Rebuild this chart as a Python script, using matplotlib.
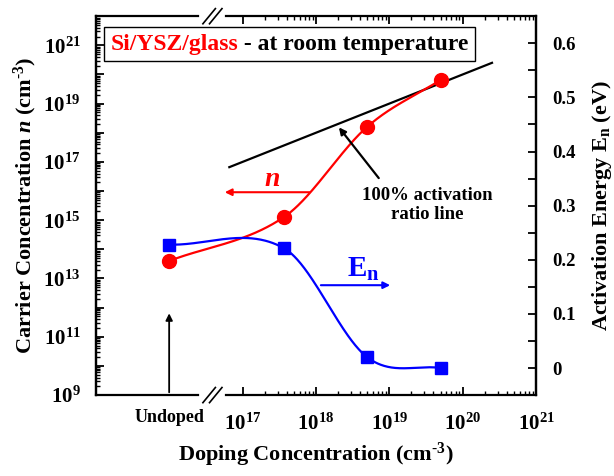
import numpy as np
import matplotlib
matplotlib.use("Agg")
import matplotlib.pyplot as plt
from matplotlib.ticker import FixedLocator, NullFormatter
from matplotlib.offsetbox import TextArea, HPacker, AnchoredOffsetbox

plt.rcParams['font.family'] = 'Liberation Serif'
plt.rcParams['font.weight'] = 'bold'
plt.rcParams['axes.labelweight'] = 'bold'
plt.rcParams['mathtext.fontset'] = 'custom'
plt.rcParams['mathtext.rm'] = 'Liberation Serif:bold'
plt.rcParams['mathtext.bf'] = 'Liberation Serif:bold'
plt.rcParams['mathtext.it'] = 'Liberation Serif:bold:italic'
plt.rcParams['mathtext.bfit'] = 'Liberation Serif:bold:italic'

# data (doping in cm^-3, first sample is undoped)
doping = [np.nan, 3.7e17, 5e18, 5e19]
carrier_n = [4e13, 1.3e15, 1.6e18, 6.5e19]      # cm^-3
energy_en = [0.228, 0.221, 0.020, 0.000]        # eV
ratio_line_doping = [10**16.82, 10**20.4]       # 100% activation: n = doping
x_ticks = [17, 18, 19, 20, 21]
y_ticks_labeled = [9, 11, 13, 15, 17, 19, 21]
e_ticks = [0, 0.1, 0.2, 0.3, 0.4, 0.5, 0.6]

UNDOPED_POS = 16   # where "Undoped" sits on the log10 axis

xpos = np.array([UNDOPED_POS if np.isnan(d) else np.log10(d) for d in doping])


def smooth_curve(x, y, xs):
    # cubic hermite through the points, finite-difference tangents
    x = np.asarray(x, float)
    y = np.asarray(y, float)
    n = len(x)
    m = np.empty(n)
    m[0] = (y[1] - y[0]) / (x[1] - x[0])
    m[-1] = (y[-1] - y[-2]) / (x[-1] - x[-2])
    for i in range(1, n - 1):
        m[i] = (y[i + 1] - y[i - 1]) / (x[i + 1] - x[i - 1])
    out = np.empty_like(xs)
    for k, xv in enumerate(xs):
        i = min(max(np.searchsorted(x, xv) - 1, 0), n - 2)
        h = x[i + 1] - x[i]
        t = (xv - x[i]) / h
        h00 = 2 * t**3 - 3 * t**2 + 1
        h10 = t**3 - 2 * t**2 + t
        h01 = -2 * t**3 + 3 * t**2
        h11 = t**3 - t**2
        out[k] = h00 * y[i] + h10 * h * m[i] + h01 * y[i + 1] + h11 * h * m[i + 1]
    return out


fig = plt.figure(figsize=(6.14, 4.76), dpi=100)
ax = fig.add_axes([0.156, 0.170, 0.717, 0.796])
ax2 = ax.twinx()

xs = np.linspace(xpos[0], xpos[-1], 300)
n_smooth = 10 ** smooth_curve(xpos, np.log10(carrier_n), xs)
e_smooth = smooth_curve(xpos, energy_en, xs)

red = '#FF0000'
blue = '#0000FF'

ax.plot(xs, n_smooth, color=red, lw=1.6, zorder=3)
ax.plot(xpos, carrier_n, 'o', color=red, ms=10, zorder=4)
ax.plot(np.log10(ratio_line_doping), ratio_line_doping, color='black', lw=1.6)

ax2.plot(xs, e_smooth, color=blue, lw=1.6, zorder=3)
ax2.plot(xpos, energy_en, 's', color=blue, ms=9, zorder=4)

# axes setup
ax.set_xlim(15, 21)
ax.set_yscale('log')
ax.set_ylim(1e9, 1e22)
ax2.set_ylim(-0.05, 0.65)

ax.xaxis.set_major_locator(FixedLocator(x_ticks))
ax.set_xticklabels([r'$\mathbf{10^{%d}}$' % t for t in x_ticks])
ax.xaxis.set_minor_locator(FixedLocator(
    [np.log10(k * 10.0**d) for d in range(17, 21) for k in range(2, 10)]))

ax.yaxis.set_major_locator(FixedLocator([10.0**e for e in range(9, 23)]))
ax.set_yticklabels([r'$\mathbf{10^{%d}}$' % e if e in y_ticks_labeled else ''
                    for e in range(9, 23)])
ax.yaxis.set_minor_locator(FixedLocator(
    [k * 10.0**d for d in range(9, 22) for k in range(2, 10)]))
ax.yaxis.set_minor_formatter(NullFormatter())

ax2.yaxis.set_major_locator(FixedLocator(e_ticks))
ax2.set_yticklabels(['0'] + ['%.1f' % v for v in e_ticks[1:]])
ax2.yaxis.set_minor_locator(FixedLocator(np.arange(-0.05, 0.65, 0.1)[1:]))

ax.tick_params(axis='x', which='both', direction='in', top=True, labelsize=15, pad=13)
ax.tick_params(axis='x', which='major', length=6, width=1.3)
ax.tick_params(axis='x', which='minor', length=3, width=1)
ax.tick_params(axis='y', which='major', direction='in', length=6, width=1.3, labelsize=15, pad=11)
ax.tick_params(axis='y', which='minor', direction='in', length=3, width=1)
ax2.tick_params(axis='y', which='both', direction='in', length=6, width=1.3, labelsize=13.5, pad=12)

for a in (ax, ax2):
    a.spines['top'].set_visible(False)
    a.spines['bottom'].set_visible(False)
    a.spines['left'].set_linewidth(1.6)
    a.spines['right'].set_linewidth(1.6)

# broken top/bottom axis lines
tr = ax.get_xaxis_transform()
for yy in (0, 1):
    ax.plot([15, 16.39], [yy, yy], color='black', lw=1.6, transform=tr, clip_on=False)
    ax.plot([16.77, 21], [yy, yy], color='black', lw=1.6, transform=tr, clip_on=False)
    for x0 in (16.46, 16.55):
        ax.plot([x0, x0 + 0.17], [yy - 0.02, yy + 0.02], color='black', lw=1.2,
                transform=tr, clip_on=False)

ax.text(UNDOPED_POS, -0.058, 'Undoped', transform=tr, ha='center', va='center', fontsize=13)

ax.set_xlabel(r'Doping Concentration (cm$^{\text{-3}}$)', fontsize=16, labelpad=5)
ax.set_ylabel(r'Carrier Concentration $\mathbfit{n}$ (cm$^{\text{-3}}$)', fontsize=16, labelpad=3)
ax2.set_ylabel(r'Activation Energy E$_{\mathbf{n}}$ (eV)', fontsize=16, labelpad=10)

# annotations
ax.annotate('', xy=(UNDOPED_POS, 10**11.9), xytext=(UNDOPED_POS, 1e9),
            arrowprops=dict(arrowstyle='-|>', color='black', lw=1.3, mutation_scale=10))
ax.annotate('', xy=(16.72, 10**15.96), xytext=(17.95, 10**15.96),
            arrowprops=dict(arrowstyle='-|>', color=red, lw=1.5, mutation_scale=10))
ax.text(17.4, 10**16.4, 'n', color=red, fontsize=20, style='italic', ha='center', va='center')
ax2.annotate('', xy=(19.05, 0.153), xytext=(18.03, 0.153),
             arrowprops=dict(arrowstyle='-|>', color=blue, lw=1.5, mutation_scale=10))
ax2.text(18.65, 0.182, r'E$_{\mathbf{n}}$', color=blue, fontsize=21, ha='center', va='center')
ax.annotate('', xy=(18.29, 10**18.26), xytext=(18.88, 10**16.37),
            arrowprops=dict(arrowstyle='-|>', color='black', lw=1.6, mutation_scale=10))
ax.text(19.52, 10**15.52, '100% activation\nratio line', ha='center', va='center',
        fontsize=13.5, linespacing=1.1)

# title box
t1 = TextArea('Si/YSZ/glass', textprops=dict(color=red, fontsize=17, fontweight='bold'))
t2 = TextArea(' - at room temperature', textprops=dict(color='black', fontsize=17, fontweight='bold'))
box = HPacker(children=[t1, t2], align='baseline', pad=0, sep=0)
anchored = AnchoredOffsetbox(loc='center', child=box, pad=0.45, borderpad=0,
                             frameon=True, bbox_to_anchor=(0.44, 0.926),
                             bbox_transform=ax.transAxes)
anchored.patch.set_linewidth(1.0)
anchored.patch.set_edgecolor('black')
ax.add_artist(anchored)

fig.savefig('out.png', dpi=100)
